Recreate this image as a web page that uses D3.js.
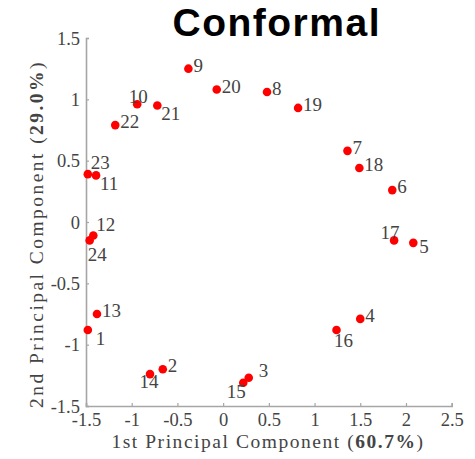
<!DOCTYPE html>
<html>
<head>
<meta charset="utf-8">
<script src="https://cdn.jsdelivr.net/npm/d3@7"></script>
<style>
  html, body { margin: 0; padding: 0; background: #fff; }
  svg { display: block; }
</style>
</head>
<body>
<svg id="chart" width="475" height="459"></svg>
<script>
// ---- data ----
const pointIds = [1, 2, 3, 4, 5, 6, 7, 8, 9, 10, 11, 12, 13, 14, 15, 16, 17, 18, 19, 20, 21, 22, 23, 24];
const pc1 = [-1.48, -0.66, 0.28, 1.50, 2.08, 1.85, 1.36, 0.48, -0.38, -0.94, -1.39, -1.42, -1.38, -0.80, 0.22, 1.24, 1.87, 1.49, 0.82, -0.07, -0.72, -1.18, -1.48, -1.46];
const pc2 = [-0.88, -1.20, -1.27, -0.79, -0.17, 0.26, 0.58, 1.06, 1.25, 0.96, 0.38, -0.11, -0.75, -1.24, -1.31, -0.88, -0.15, 0.44, 0.93, 1.08, 0.95, 0.79, 0.39, -0.15];
// label placement keyword per point
const labelSide = ["br", "r", "r2", "r", "rl", "r", "r", "r", "r", "a", "rb", "ar", "r", "b", "bl", "b2", "al", "r", "r", "r", "rb", "r", "ar", "bs"];
const xTicks = [-1.5, -1, -0.5, 0, 0.5, 1, 1.5, 2, 2.5];
const yTicks = [-1.5, -1, -0.5, 0, 0.5, 1, 1.5];
const xTickLabels = ["-1.5", "-1", "-0.5", "0", "0.5", "1", "1.5", "2", "2.5"];
const yTickLabels = ["-1.5", "-1", "-0.5", "0", "0.5", "1", "1.5"];
const titleText = "Conformal";
const xTitle = ["1st Principal Component (", "60.7%", ")"];
const yTitle = ["2nd Principal Component (", "29.0%", ")"];

// ---- layout ----
const svg = d3.select("#chart");
const x = d3.scaleLinear().domain([-1.5, 2.5]).range([86, 451.7]);
const y = d3.scaleLinear().domain([-1.5, 1.5]).range([406, 38]);
const serif = "'Liberation Serif', 'Times New Roman', serif";
const axisColor = "#a6a6a6";
const textColor = "#444";

// axes
const xAxis = d3.axisBottom(x).tickValues(xTicks).tickSize(-3).tickPadding(7)
  .tickFormat((d, i) => xTickLabels[i]);
const yAxis = d3.axisLeft(y).tickValues(yTicks).tickSize(-3).tickPadding(6)
  .tickFormat((d, i) => yTickLabels[i]);

const gx = svg.append("g").attr("transform", `translate(0,${y(-1.5)})`).call(xAxis);
const gy = svg.append("g").attr("transform", `translate(${x(-1.5)},0)`).call(yAxis);
[gx, gy].forEach(g => {
  g.select(".domain").attr("stroke", axisColor).attr("stroke-width", 1.6);
  g.selectAll(".tick line").attr("stroke", axisColor).attr("stroke-width", 1.2);
  g.selectAll(".tick text").attr("fill", textColor)
    .style("font-family", serif).style("font-size", "18.5px");
});
gx.selectAll(".tick text").attr("dy", "0.71em");
gy.selectAll(".tick text").attr("dy", "0.34em");

// title
svg.append("text")
  .attr("x", 276).attr("y", 36)
  .attr("text-anchor", "middle")
  .style("font-family", "'Liberation Sans', Arial, sans-serif")
  .style("font-weight", "bold")
  .style("font-size", "39px")
  .attr("fill", "#000")
  .attr("textLength", 207).attr("lengthAdjust", "spacing")
  .text(titleText);

// axis titles
function richTitle(parts, attrs, target) {
  const t = svg.append("text")
    .attr("fill", textColor)
    .style("font-family", serif)
    .style("font-size", "19.5px");
  Object.entries(attrs).forEach(([k, v]) => t.attr(k, v));
  parts.forEach((p, i) => t.append("tspan").style("font-weight", i === 1 ? "bold" : "normal").text(p));
  const w = t.node().getComputedTextLength();
  const n = parts.join("").length;
  t.style("letter-spacing", ((target - w) / n).toFixed(2) + "px");
  return t;
}
richTitle(xTitle, { x: 268, y: 448, "text-anchor": "middle" }, 313);
richTitle(yTitle, { transform: "translate(43,234) rotate(-90)", "text-anchor": "middle" }, 348);

// points
const data = pointIds.map((id, i) => ({ id, px: pc1[i], py: pc2[i], side: labelSide[i] }));
const offsets = {
  r:  [5, -3.5, "start"],
  r2: [10, -7, "start"],
  rl: [6, 3, "start"],
  rb: [4, 8, "start"],
  ar: [3, -11.5, "start"],
  br: [8, 8, "start"],
  bs: [-2, 13.5, "start"],
  a:  [1, -8, "middle"],
  al: [-4, -8, "middle"],
  b:  [-1, 7.5, "middle"],
  b2: [7, 10, "middle"],
  bl: [-7, 9, "middle"]
};

svg.append("g").selectAll("circle").data(data).join("circle")
  .attr("cx", d => x(d.px)).attr("cy", d => y(d.py))
  .attr("r", 4.3).attr("fill", "#ff0000");

svg.append("g").selectAll("text").data(data).join("text")
  .attr("x", d => x(d.px) + offsets[d.side][0])
  .attr("y", d => y(d.py) + offsets[d.side][1])
  .attr("dy", "0.35em")
  .attr("text-anchor", d => offsets[d.side][2])
  .attr("fill", textColor)
  .style("font-family", serif).style("font-size", "19px")
  .text(d => d.id);
</script>
</body>
</html>
